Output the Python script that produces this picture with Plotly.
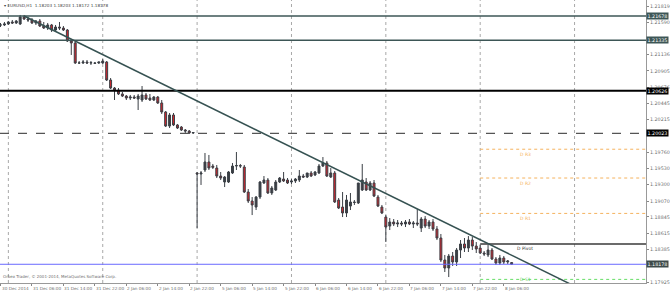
import plotly.graph_objects as go

symbol = "EURUSD,H1"
bars = list(range(131))
opens = [1.21552,1.21552,1.21566,1.21594,1.21580,1.21566,1.21664,1.21636,1.21622,1.21580,
         1.21608,1.21537,1.21509,1.21552,1.21481,1.21523,1.21509,1.21481,1.21326,1.21298,
         1.21016,1.21016,1.21030,1.21016,1.21016,1.21016,1.21016,1.21030,1.20776,1.20663,
         1.20635,1.20579,1.20550,1.20522,1.20536,1.20508,1.20494,1.20565,1.20522,1.20494,
         1.20536,1.20452,1.20325,1.20127,1.20283,1.20142,1.20113,1.20071,1.20057,1.20029,
         1.19465,1.19451,1.19507,1.19620,1.19563,1.19535,1.19422,1.19338,1.19338,1.19465,
         1.19563,1.19570,1.19549,1.19197,1.19070,1.18985,1.19126,1.19324,1.19366,1.19183,
         1.19225,1.19338,1.19380,1.19366,1.19338,1.19352,1.19366,1.19422,1.19408,1.19465,
         1.19437,1.19465,1.19563,1.19606,1.19408,1.19465,1.19084,1.18985,1.18901,1.18999,
         1.19056,1.19042,1.19225,1.19338,1.19225,1.19324,1.19126,1.18985,1.18844,1.18717,
         1.18774,1.18746,1.18760,1.18746,1.18774,1.18746,1.18760,1.18689,1.18816,1.18717,
         1.18774,1.18675,1.18548,1.18238,1.18125,1.18294,1.18210,1.18379,1.18464,1.18407,
         1.18520,1.18435,1.18407,1.18337,1.18309,1.18379,1.18252,1.18196,1.18266,1.18210,
         1.18203]
highs = [1.21580,1.21594,1.21608,1.21622,1.21622,1.21693,1.21693,1.21664,1.21650,1.21622,
         1.21636,1.21594,1.21580,1.21566,1.21552,1.21594,1.21537,1.21495,1.21354,1.21312,
         1.21044,1.21058,1.21058,1.21044,1.21030,1.21030,1.21072,1.21044,1.20804,1.20677,
         1.20663,1.20607,1.20565,1.20565,1.20565,1.20579,1.20691,1.20593,1.20579,1.20550,
         1.20550,1.20494,1.20339,1.20311,1.20311,1.20156,1.20127,1.20085,1.20071,1.20043,
         1.19479,1.19493,1.19747,1.19719,1.19592,1.19578,1.19479,1.19422,1.19493,1.19606,
         1.19761,1.19592,1.19578,1.19239,1.19126,1.19140,1.19352,1.19422,1.19394,1.19281,
         1.19366,1.19408,1.19479,1.19394,1.19380,1.19394,1.19507,1.19451,1.19465,1.19493,
         1.19493,1.19592,1.19690,1.19634,1.19535,1.19493,1.19112,1.19197,1.19155,1.19183,
         1.19084,1.19324,1.19592,1.19394,1.19352,1.19366,1.19155,1.19014,1.18872,1.18830,
         1.18816,1.18802,1.18788,1.18802,1.18816,1.18788,1.18957,1.18844,1.18858,1.18802,
         1.18816,1.18717,1.18605,1.18309,1.18323,1.18351,1.18407,1.18520,1.18548,1.18576,
         1.18562,1.18492,1.18450,1.18365,1.18450,1.18407,1.18280,1.18309,1.18294,1.18238,
         1.18203]
lows = [1.21523,1.21537,1.21552,1.21566,1.21566,1.21552,1.21622,1.21594,1.21566,1.21552,
        1.21523,1.21495,1.21481,1.21453,1.21467,1.21481,1.21467,1.21312,1.21129,1.21002,
        1.21002,1.21002,1.21002,1.20988,1.21002,1.21002,1.21002,1.20762,1.20649,1.20494,
        1.20565,1.20536,1.20494,1.20494,1.20508,1.20353,1.20466,1.20494,1.20480,1.20480,
        1.20438,1.20297,1.20113,1.20099,1.20127,1.20085,1.20057,1.20029,1.20015,1.20015,
        1.18689,1.19296,1.19479,1.19507,1.19521,1.19394,1.19366,1.19267,1.19324,1.19451,
        1.19507,1.19535,1.19183,1.19042,1.18872,1.18943,1.19098,1.19310,1.19169,1.19155,
        1.19211,1.19324,1.19338,1.19310,1.19310,1.19324,1.19338,1.19394,1.19394,1.19408,
        1.19422,1.19451,1.19549,1.19408,1.19394,1.19042,1.18957,1.18844,1.18844,1.18943,
        1.19014,1.19028,1.19211,1.19211,1.19211,1.19126,1.18985,1.18886,1.18492,1.18661,
        1.18717,1.18703,1.18717,1.18703,1.18731,1.18689,1.18717,1.18633,1.18689,1.18675,
        1.18647,1.18520,1.18210,1.18069,1.17998,1.18154,1.18154,1.18266,1.18351,1.18351,
        1.18379,1.18337,1.18323,1.18294,1.18280,1.18238,1.18168,1.18168,1.18182,1.18182,
        1.18172]
closes = [1.21552,1.21566,1.21594,1.21580,1.21608,1.21664,1.21636,1.21622,1.21580,1.21608,
          1.21537,1.21509,1.21552,1.21481,1.21523,1.21509,1.21481,1.21326,1.21298,1.21016,
          1.21016,1.21030,1.21016,1.21020,1.21012,1.21030,1.21044,1.20776,1.20663,1.20635,
          1.20579,1.20550,1.20522,1.20536,1.20522,1.20550,1.20565,1.20508,1.20494,1.20536,
          1.20452,1.20325,1.20127,1.20283,1.20142,1.20099,1.20071,1.20057,1.20029,1.20035,
          1.19451,1.19465,1.19620,1.19535,1.19545,1.19422,1.19394,1.19408,1.19479,1.19563,
          1.19570,1.19563,1.19197,1.19070,1.19014,1.19126,1.19338,1.19366,1.19183,1.19253,
          1.19338,1.19394,1.19352,1.19324,1.19352,1.19380,1.19422,1.19408,1.19465,1.19422,
          1.19479,1.19563,1.19606,1.19422,1.19465,1.19056,1.18971,1.18901,1.19084,1.19056,
          1.19050,1.19324,1.19366,1.19225,1.19324,1.19140,1.18999,1.18901,1.18703,1.18774,
          1.18746,1.18760,1.18746,1.18774,1.18746,1.18760,1.18746,1.18816,1.18717,1.18774,
          1.18675,1.18548,1.18238,1.18125,1.18294,1.18210,1.18379,1.18464,1.18407,1.18520,
          1.18435,1.18393,1.18337,1.18323,1.18379,1.18252,1.18196,1.18266,1.18210,1.18224,
          1.18178]

tick_bars = [0, 8, 16, 24, 32, 40, 48, 56, 64, 72, 80, 88, 96, 104, 112, 120, 128]
tick_labels = ["30 Dec 2014", "31 Dec 06:00", "31 Dec 14:00", "31 Dec 22:00", "2 Jan 06:00",
               "2 Jan 14:00", "2 Jan 22:00", "5 Jan 06:00", "5 Jan 14:00", "5 Jan 22:00",
               "6 Jan 06:00", "6 Jan 14:00", "6 Jan 22:00", "7 Jan 06:00", "7 Jan 14:00",
               "7 Jan 22:00", "8 Jan 06:00"]
day_sep_bars = [2, 26, 50, 74, 98, 122, 146]

price_ticks = [1.21819, 1.21590, 1.21136, 1.20905, 1.20676, 1.20445, 1.20215, 1.19760,
               1.19530, 1.19300, 1.19070, 1.18845, 1.18615, 1.18385, 1.17925]

levels = [1.21678, 1.21335, 1.20626, 1.20023]
level_styles = [("#3d5656", "solid", 1.5, "#3d5656"), ("#3d5656", "solid", 1.5, "#3d5656"),
                ("#000000", "solid", 2, "#000000"), ("#555555", "dash", 1.2, "#000000")]
bid_price = 1.18178

pivot_names = ["D R3", "D R2", "D R1", "D Pivot", "D S1"]
pivot_values = [1.19800, 1.19394, 1.18895, 1.18464, 1.17965]
pivot_start_bar = 122

trend_bars = [6, 146.0]
trend_prices = [1.21678, 1.17870]

X0, X1 = -0.13, 164.17
Y0, Y1 = 1.17914, 1.21904

fig = go.Figure()
fig.add_trace(go.Candlestick(
    x=bars, open=opens, high=highs, low=lows, close=closes,
    increasing=dict(line=dict(color="#3a3f45", width=1), fillcolor="#3a3f45"),
    decreasing=dict(line=dict(color="#3a3f45", width=1), fillcolor="#d9242c"),
    whiskerwidth=0, showlegend=False, hoverinfo="skip"))

shapes = []
for b in day_sep_bars:
    shapes.append(dict(type="line", xref="x", yref="paper", x0=b, x1=b, y0=0, y1=1,
                       line=dict(color="#a8a8a8", width=1, dash="dot"), layer="below"))
for v, (c, d, w, bc) in zip(levels, level_styles):
    shapes.append(dict(type="line", xref="paper", yref="y", x0=0, x1=1, y0=v, y1=v,
                       line=dict(color=c, width=w, dash=d)))
shapes.append(dict(type="line", xref="paper", yref="y", x0=0, x1=1, y0=bid_price, y1=bid_price,
                   line=dict(color="#6a6aff", width=1)))
piv_colors = ["#f5b25e", "#f5b25e", "#f5b25e", "#3a3a3a", "#66dd66"]
piv_dash = ["dot", "dot", "dot", "solid", "dot"]
piv_width = [1, 1, 1, 1.5, 1]
for v, c, d, w in zip(pivot_values, piv_colors, piv_dash, piv_width):
    shapes.append(dict(type="line", xref="x", yref="y", x0=pivot_start_bar, x1=X1, y0=v, y1=v,
                       line=dict(color=c, width=w, dash=d)))
shapes.append(dict(type="line", xref="x", yref="y", x0=trend_bars[0], x1=trend_bars[1],
                   y0=trend_prices[0], y1=trend_prices[1],
                   line=dict(color="#365252", width=1.5)))

ann = []
font_ax = dict(family="DejaVu Sans", size=4.2, color="#707070")
font_y = dict(family="DejaVu Sans", size=4.8, color="#707070")
for b, t in zip(tick_bars, tick_labels):
    ann.append(dict(x=b, y=0, xref="x", yref="paper", text=t, showarrow=False,
                    xanchor="left", yanchor="top", yshift=-1, xshift=-1, font=font_ax))
for v, (c, d, w, bc) in zip(levels, level_styles):
    ann.append(dict(x=1, y=v, xref="paper", yref="y", text=f"{v:.5f}", showarrow=False,
                    xanchor="left", yanchor="middle", bgcolor=bc, borderpad=0.5,
                    font=dict(family="DejaVu Sans", size=4.8, color="white")))
ann.append(dict(x=1, y=bid_price, xref="paper", yref="y", text=f"{bid_price:.5f}", showarrow=False,
                xanchor="left", yanchor="middle", bgcolor="#3d4a4a", borderpad=0.5,
                font=dict(family="DejaVu Sans", size=4.8, color="white")))
piv_text_colors = ["#f5b25e", "#f5b25e", "#f5b25e", "#333333", "#66cc66"]
piv_anchor = ["top", "top", "top", "top", "middle"]
for n, v, c, a in zip(pivot_names, pivot_values, piv_text_colors, piv_anchor):
    ann.append(dict(x=pivot_start_bar + 11.5, y=v, xref="x", yref="y", text=n, showarrow=False,
                    xanchor="center", yanchor=a, yshift=-0.5,
                    font=dict(family="DejaVu Sans", size=4.5, color=c)))
header = f"▾ {symbol}  {opens[-1]:.5f} {highs[-1]:.5f} {lows[-1]:.5f} {closes[-1]:.5f}"
ann.append(dict(x=0, y=1, xref="paper", yref="paper", text=header, showarrow=False,
                xanchor="left", yanchor="top", xshift=2, yshift=-1,
                font=dict(family="DejaVu Sans", size=4.2, color="#444444")))
ann.append(dict(x=0, y=0, xref="paper", yref="paper",
                text="Orbex Trader, © 2001-2014, MetaQuotes Software Corp.", showarrow=False,
                xanchor="left", yanchor="bottom", xshift=1, yshift=2,
                font=dict(family="DejaVu Sans", size=4, color="#707070")))

fig.update_layout(
    width=670, height=292, margin=dict(l=0, r=21, t=0, b=9),
    paper_bgcolor="white", plot_bgcolor="white",
    shapes=shapes, annotations=ann, showlegend=False,
    xaxis=dict(range=[X0, X1], rangeslider=dict(visible=False), showgrid=False, zeroline=False,
               tickvals=tick_bars, showticklabels=False, ticks="outside", ticklen=2,
               tickcolor="#888888", showline=True, linecolor="#999999", linewidth=1, mirror=False),
    yaxis=dict(range=[Y0, Y1], side="right", showgrid=False, zeroline=False,
               tickvals=price_ticks, ticktext=[f"{p:.5f}" for p in price_ticks],
               ticks="outside", ticklen=2, tickcolor="#888888",
               tickfont=font_y, showline=True, linecolor="#999999", linewidth=1),
)

fig.write_html("out.html")
